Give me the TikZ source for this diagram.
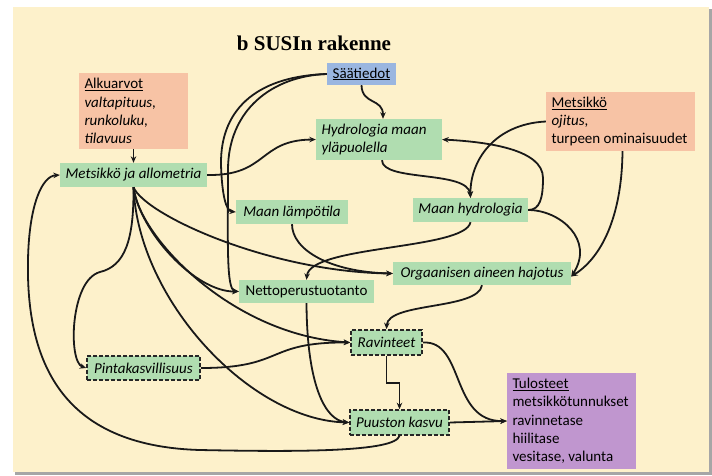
\documentclass[tikz,border=0pt]{standalone}
\usepackage{fontspec}
\setmainfont{Carlito}
\newfontfamily\titlefont{Liberation Serif}
\usetikzlibrary{arrows.meta}
\definecolor{cream}{HTML}{FDF1CB}
\definecolor{orangebox}{HTML}{F7C3A5}
\definecolor{bluebox}{HTML}{9AB6E0}
\definecolor{greenbox}{HTML}{B0DDB0}
\definecolor{purplebox}{HTML}{C096CF}
\begin{document}
\begin{tikzpicture}[x=1pt,y=-1pt,
  box/.style={rectangle, inner sep=0pt, font=\fontsize{15}{18.3}\selectfont, align=left},
  gbox/.style={box, fill=greenbox},
  obox/.style={box, fill=orangebox},
  dbox/.style={gbox, draw=black!85, line width=1.6pt, dash pattern=on 4pt off 2pt},
  conn/.style={line width=1.8pt, black!90, -{Stealth[length=6.5pt,width=5.5pt]}},
]
\useasboundingbox (0,0) rectangle (712,475);
\fill[white] (0,0) rectangle (712,475);
\fill[black!35] (15,9) rectangle (712,475);
\fill[cream] (13,7) rectangle (709,472);

\node[font=\titlefont\bfseries\fontsize{21}{24}\selectfont] (title) at (314,43) {b SUSIn rakenne};

\node[obox, minimum width=109pt, minimum height=76pt, text width=98pt] (alku) at (133.5,111)
  {\spaceskip=0pt\relax\underline{Alkuarvot}\\ \textit{valtapituus,}\\ \textit{runkoluku,}\\ \textit{tilavuus}};
\node[box, fill=bluebox, minimum width=69pt, minimum height=22pt] (saa) at (361.5,74) {\underline{Säätiedot}};
\node[gbox, minimum width=126pt, minimum height=41pt, text width=115pt] (hyd) at (379,139.5)
  {\spaceskip=0pt\relax\textit{Hydrologia maan}\\ \textit{yläpuolella}};
\node[obox, minimum width=149pt, minimum height=59pt, text width=138pt] (mets) at (620.5,121.5)
  {\spaceskip=0pt\relax\underline{Metsikkö}\\ \textit{ojitus,}\\ turpeen ominaisuudet};
\node[gbox, minimum width=147pt, minimum height=24pt] (alloc) at (133.5,175) {\textit{Metsikkö ja allometria}};
\node[gbox, minimum width=112pt, minimum height=24pt] (mlt) at (292,212) {\textit{Maan lämpötila}};
\node[gbox, minimum width=115pt, minimum height=24pt] (mhyd) at (470.5,210) {\textit{Maan hydrologia}};
\node[gbox, minimum width=178pt, minimum height=23pt] (org) at (482,273.5) {\textit{Orgaanisen aineen hajotus}};
\node[gbox, minimum width=135pt, minimum height=23pt] (npp) at (306.5,291.5) {Nettoperustuotanto};
\node[dbox, minimum width=71pt, minimum height=25pt] (rav) at (386.5,342.5) {\textit{Ravinteet}};
\node[dbox, minimum width=113pt, minimum height=24pt] (pinta) at (143.5,368) {\textit{Pintakasvillisuus}};
\node[dbox, minimum width=99pt, minimum height=25pt] (puu) at (399.5,422.5) {\textit{Puuston kasvu}};
\node[box, fill=purplebox, minimum width=129pt, minimum height=96pt, text width=118pt] (tulo) at (571.5,421)
  {\spaceskip=0pt\relax\underline{Tulosteet}\\ metsikkötunnukset\\ ravinnetase\\ hiilitase\\ vesitase, valunta};

\draw[conn] (alku.south) -- (alloc.north);
\draw[conn] (saa.south) .. controls (362,105) and (383,98) .. ([xshift=4pt]hyd.north);
\draw[conn] (saa.west) .. controls (262,76) and (220,105) .. (221,165) .. controls (222,195) and (226,211) .. (mlt.west);
\draw[conn] (saa.west) .. controls (272,76) and (228,110) .. (228,170) .. controls (228,240) and (226,290) .. (npp.west);
\draw[conn] (alloc.east) .. controls (268,176) and (258,140) .. (hyd.west);
\draw[conn] ([xshift=3pt]hyd.south) .. controls (382,182) and (468,170) .. (mhyd.north);
\draw[conn] (mets.west) .. controls (495,124) and (470,160) .. (mhyd.north);
\draw[conn] (mhyd.east) .. controls (540,210) and (543,198) .. (543,178) .. controls (543,150) and (490,142) .. (hyd.east);
\draw[conn] (mhyd.east) .. controls (560,210) and (595,240) .. ([yshift=-3pt]org.east);
\draw[conn] ([xshift=2pt]mets.south) .. controls (622,210) and (605,255) .. ([yshift=-3pt]org.east);
\draw[conn] (mlt.south) .. controls (292,250) and (330,272) .. (org.west);
\draw[conn] (alloc.south) .. controls (145,215) and (270,272) .. (org.west);
\draw[conn] (mhyd.south) .. controls (465,250) and (310,245) .. (npp.north);
\draw[conn] (org.south) .. controls (478,310) and (388,302) .. (rav.north);
\draw[conn] (alloc.south) .. controls (134,240) and (125,266) .. (100,272) .. controls (70,280) and (68,362) .. (pinta.west);
\draw[conn] (alloc.south) .. controls (140,232) and (195,292) .. (npp.west);
\draw[conn] (alloc.south) .. controls (138,235) and (230,335) .. (rav.west);
\draw[conn] (alloc.south) .. controls (138,300) and (250,420) .. (puu.west);
\draw[conn] (pinta.east) .. controls (285,368) and (265,342) .. (rav.west);
\draw[conn] (npp.south) .. controls (307,385) and (325,420) .. (puu.west);
\draw[conn] (rav.south) -- ++(0,27) -| (puu.north);
\draw[conn] (rav.east) .. controls (465,340) and (450,422) .. (tulo.west);
\draw[conn] (puu.east) -- (tulo.west);
\draw[conn] (puu.south) .. controls (395,452) and (300,452) .. (200,450) .. controls (60,446) and (26,360) .. (28,260) .. controls (29,205) and (42,176) .. (alloc.west);
\end{tikzpicture}
\end{document}
